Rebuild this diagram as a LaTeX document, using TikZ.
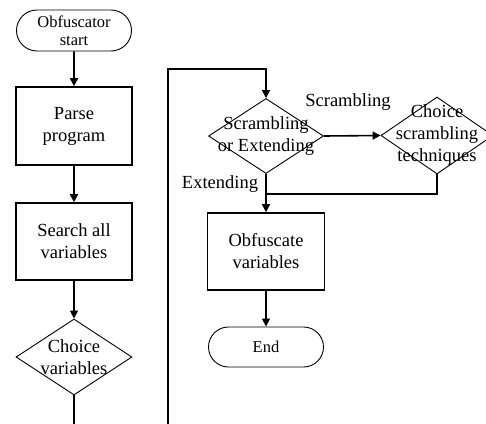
\documentclass[tikz,border=0pt]{standalone}
\usepackage{fontspec}
\setmainfont{Liberation Serif}
\usetikzlibrary{shapes.geometric,shapes.misc,arrows.meta}
\tikzset{
  conn/.style={line width=1.6pt},
  arr/.style={conn,-{Triangle[length=8pt,width=8pt]}},
  procbox/.style={draw,line width=1.6pt,rectangle,inner sep=0pt,
    align=center,font=\fontsize{18.5}{22}\selectfont},
  decision/.style={draw,line width=0.9pt,diamond,inner sep=0pt},
  dlabel/.style={align=center,font=\fontsize{18.5}{22}\selectfont},
  terminal/.style={draw,line width=0.9pt,rounded rectangle,inner sep=0pt},
  txt/.style={font=\fontsize{18.5}{22}\selectfont,inner sep=0pt},
}
\begin{document}
\begin{tikzpicture}[x=1pt,y=-1pt]
\clip (0,0) rectangle (486,423);
\fill[white] (0,0) rectangle (486,423);
% left column
\node[terminal,minimum width=115pt,minimum height=41pt,
  font=\fontsize{16.5}{18}\selectfont,align=center] (start) at (74,30.5) {Obfuscator\\start};
\node[procbox,minimum width=116pt,minimum height=78pt] (parse) at (74,126) {Parse\\program};
\node[procbox,minimum width=116pt,minimum height=77pt] (search) at (74,241.5) {Search all\\variables};
\node[decision,minimum width=116pt,minimum height=76pt,
  label={[dlabel]center:Choice\\variables}] (cvar) at (74,357) {};
\coordinate (cvarout) at (74,426);
% right part
\coordinate (loopin) at (168,426);
\node[decision,minimum width=115pt,minimum height=75pt,
  label={[dlabel]center:Scrambling\\or Extending}] (se) at (266,136) {};
\node[decision,minimum width=112pt,minimum height=77pt,
  label={[dlabel]center:Choice\\scrambling\\techniques}] (cst) at (437,135.5) {};
\node[procbox,minimum width=117pt,minimum height=77pt] (obf) at (266,251.5) {Obfuscate\\variables};
\node[terminal,minimum width=115pt,minimum height=40pt,
  font=\fontsize{16.5}{18}\selectfont] (end) at (266,347) {End};
\coordinate (join) at (266,194);
\node[txt] (lscr) at (348,102) {Scrambling};
\node[txt] (lext) at (220,184) {Extending};
% connectors
\draw[arr] (start) -- (parse);
\draw[arr] (parse) -- (search);
\draw[arr] (search) -- (cvar);
\draw[conn] (cvar.south) -- (cvarout);
\draw[arr] (loopin) |- (266,69) -- (se.north);
\draw[arr] (se.east) -- (cst.west);
\draw[conn] (cst.south) |- (join);
\draw[arr] (se.south) -- (obf.north);
\draw[arr] (obf) -- (end);
\end{tikzpicture}
\end{document}
